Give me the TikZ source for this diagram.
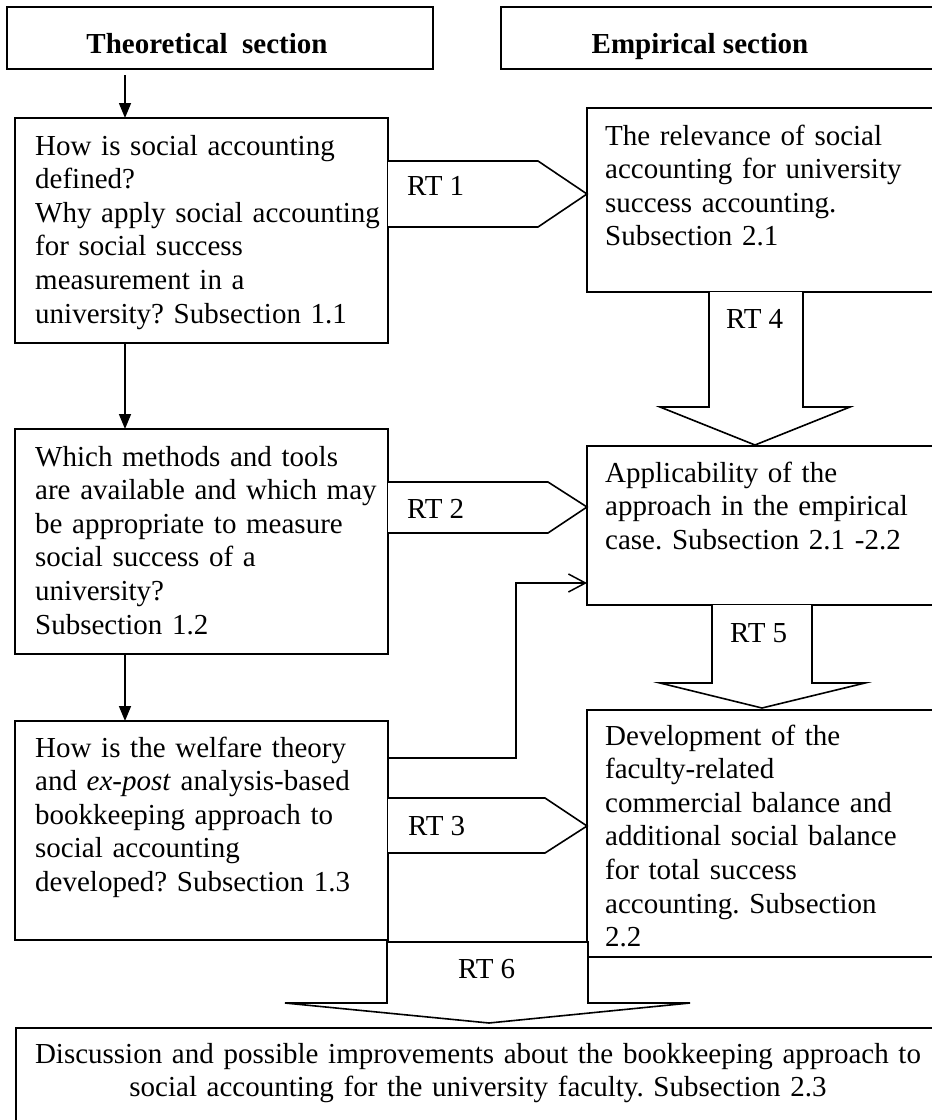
\documentclass[tikz,border=0pt]{standalone}
\usepackage{fontspec}
\setmainfont{Liberation Serif}
\usetikzlibrary{arrows.meta}
\frenchspacing

\begin{document}
\begin{tikzpicture}[x=1pt,y=-1pt,
  frame/.style={draw, line width=1.6pt, inner sep=0pt, outer sep=0pt, anchor=north west},
  body/.style={font=\fontsize{29pt}{33.6pt}\selectfont\frenchspacing, inner sep=0pt, align=left, anchor=base west},
  head/.style={font=\fontsize{29pt}{33.6pt}\selectfont\bfseries, inner sep=0pt, anchor=base},
  rtlabel/.style={font=\fontsize{29pt}{33.6pt}\selectfont, inner sep=0pt, anchor=base west},
  flow/.style={line width=1.5pt, -{Triangle[length=15pt,width=12pt]}},
  feed/.style={line width=1.5pt, -{Straight Barb[length=17pt,width=18pt]}},
  block/.style={line width=1.6pt, line join=miter, fill=white}]

\useasboundingbox (0,0) rectangle (932,1120);
\fill[white] (0,0) rectangle (932,1120);
\clip (0,0) rectangle (932,1120);

% column headings
\node[frame, minimum width=426pt, minimum height=62pt] (h1) at (7,7) {};
\node[frame, minimum width=445pt, minimum height=62pt] (h2) at (501,7) {};
\node[head] (h1t) at (207,53) {Theoretical~ section};
\node[head] (h2t) at (700,53) {Empirical section};

% theoretical boxes (left column)
\node[frame, minimum width=373pt, minimum height=225pt] (b1) at (15,118) {};
\node[frame, minimum width=373pt, minimum height=225pt] (b2) at (15,429) {};
\node[frame, minimum width=373pt, minimum height=219pt] (b3) at (15,721) {};

% empirical boxes (right column)
\node[frame, minimum width=360pt, minimum height=184pt] (ba) at (587,108) {};
\node[frame, minimum width=360pt, minimum height=159pt] (bb) at (587,446) {};
\node[frame, minimum width=360pt, minimum height=247pt] (bc) at (587,710) {};

% block arrows between the columns
\draw[block] (388,161) -- (538,161) -- (587,194) -- (538,227) -- (388,227);
\draw[block] (388,482) -- (548,482) -- (587,507) -- (548,533) -- (388,533);
\draw[block] (388,798) -- (545,798) -- (587,826) -- (545,853) -- (388,853);
% downward block arrows in the right column
\draw[block] (709,292) -- (709,407) -- (660,407) -- (755,445) -- (850,407) -- (803,407) -- (803,292);
\draw[block] (712,605) -- (712,683) -- (660,683) -- (762,708) -- (865,683) -- (812,683) -- (812,605);
% block arrow into the discussion box
\draw[block] (387,942) -- (387,1003) -- (285,1003) -- (489,1023) -- (690,1003) -- (588,1003) -- (588,942) -- cycle;

% discussion box
\node[frame, minimum width=930pt, minimum height=110pt] (bd) at (16,1028) {};

% box texts
\node[body, text width=350pt] (t1) at (35,155) {How is social accounting\\defined?\\Why apply social accounting\\for social success\\measurement in a\\university? Subsection 1.1};
\node[body, text width=350pt] (t2) at (35,466) {Which methods and tools\\are available and which may\\be appropriate to measure\\social success of a\\university?\\Subsection 1.2};
\node[body, text width=350pt] (t3) at (35,757) {How is the welfare theory\\and \textit{ex-post} analysis-based\\bookkeeping approach to\\social accounting\\developed? Subsection 1.3};
\node[body, text width=320pt] (ta) at (605,145) {The relevance of social\\accounting for university\\success accounting.\\Subsection 2.1};
\node[body, text width=320pt] (tb) at (605,482) {Applicability of the\\approach in the empirical\\case. Subsection 2.1 -2.2};
\node[body, text width=320pt] (tc) at (605,745) {Development of the\\faculty-related\\commercial balance and\\additional social balance\\for total success\\accounting. Subsection\\2.2};
\node[body, text width=920pt, align=center, anchor=base] (td) at (478,1063) {Discussion and possible improvements about the bookkeeping approach to\\social accounting for the university faculty. Subsection 2.3};

% block arrow labels
\node[rtlabel] (rt1) at (407,195) {RT 1};
\node[rtlabel] (rt2) at (407,518) {RT 2};
\node[rtlabel] (rt3) at (408,835) {RT 3};
\node[rtlabel] (rt4) at (726,328) {RT 4};
\node[rtlabel] (rt5) at (730,642) {RT 5};
\node[rtlabel] (rt6) at (458,978) {RT 6};

% simple arrows down the left column
\coordinate (x1) at (125,0);
\draw[flow] (h1.south -| x1) ++(0,6) -- (b1.north -| x1);
\draw[flow] (b1.south -| x1) -- (b2.north -| x1);
\draw[flow] (b2.south -| x1) -- (b3.north -| x1);

% feedback connector from the third theoretical box
\coordinate (e1) at (516,758);
\coordinate (e2) at (516,583);
\draw[feed] (e1 -| b3.east) -- (e1) -- (e2) -- (e2 -| bb.west);

\end{tikzpicture}
\end{document}
